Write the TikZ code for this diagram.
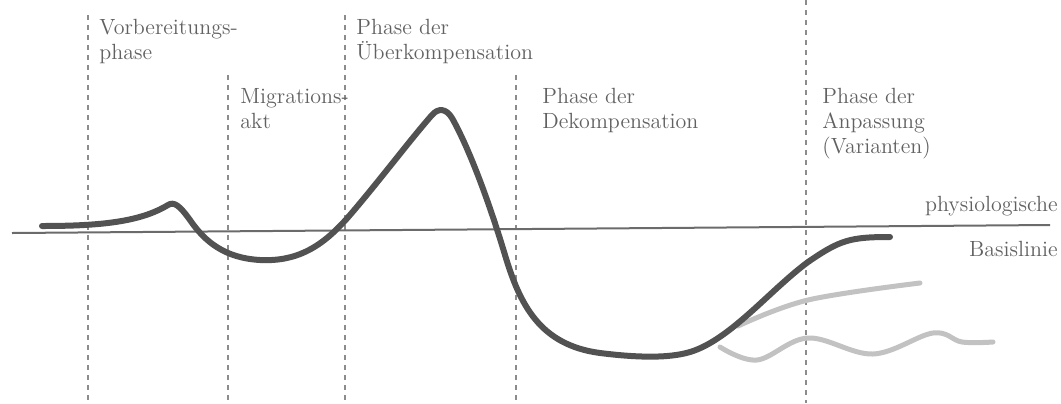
\documentclass[tikz,border=0pt]{standalone}
\usepackage{tikz}
\usetikzlibrary{positioning}

\begin{document}
\begin{tikzpicture}[
        x=0.5pt, y=-0.5pt,
        font=\fontsize{11}{12.5}\selectfont,
        lbl/.style  ={anchor=north west, align=left, inner sep=0pt, text=black!62},
        rlbl/.style ={anchor=north east, align=right, inner sep=0pt, text=black!62},
        phase/.style={black!45, line width=0.8pt, dash pattern=on 2.5pt off 2.5pt},
        basis/.style={black!58, line width=1pt},
        main/.style ={black!68, line width=3pt, line cap=round, line join=round},
        var/.style  ={black!24, line width=2.5pt, line cap=round, line join=round},
    ]
    \useasboundingbox (0,0) rectangle (1061,403);

    % ===================== Phase borders =====================
    \foreach \x/\t in {88/15, 228/75, 345/15, 516/75, 806/0}{
        \draw[phase] (\x,\t) -- (\x,403);
    }

    % ===================== Phase labels =====================
    \node[lbl] (lvor) at (99,19)  {Vorbereitungs-\\phase};
    \node[lbl] (lmig) at (240,88) {Migrations-\\akt};
    \node[lbl] (lueb) at (356,19) {Phase der\\Überkompensation};
    \node[lbl] (ldek) at (542,88) {Phase der\\Dekompensation};
    \node[lbl] (lanp) at (822,88) {Phase der\\Anpassung\\(Varianten)};

    % ===================== Baseline =====================
    \draw[basis] (12,233) -- (1050,225);
    \node[rlbl] (lphys)  at (1058,196) {physiologische};
    \node[rlbl] (lbasis) at (1058,241) {Basislinie};

    % ===================== Variants (adaptation) =====================
    \draw[var] plot[smooth, tension=0.6] coordinates {
        (738,326) (808,300) (920,283)};
    \draw[var] plot[smooth, tension=0.6] coordinates {
        (720,347) (757,360) (808,338) (873,354) (933,333) (962,342) (993,342)};

    % ===================== Main course =====================
    \draw[main] (42,226) .. controls (100,226) and (140,222) .. (168,205)
        .. controls (174,201) and (180,206) .. (190,220)
        .. controls (205,242) and (225,258) .. (260,260)
        .. controls (300,262) and (325,244) .. (350,215)
        .. controls (380,180) and (410,140) .. (432,115)
        .. controls (438,108) and (446,108) .. (452,118)
        .. controls (470,150) and (490,205) .. (505,255)
        .. controls (520,305) and (540,345) .. (600,353)
        .. controls (640,358) and (670,358) .. (690,352)
        .. controls (730,340) and (770,290) .. (808,262)
        .. controls (840,240) and (850,237) .. (890,237);
\end{tikzpicture}
\end{document}
